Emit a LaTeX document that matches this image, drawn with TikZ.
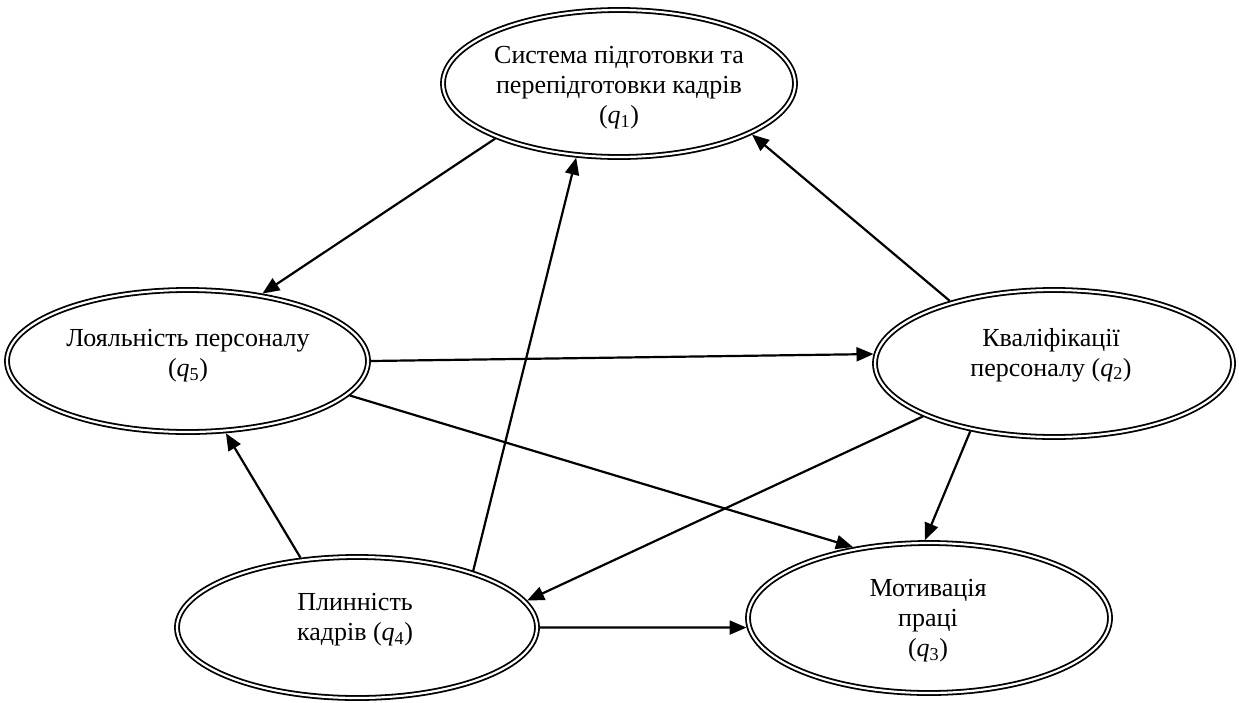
\documentclass[tikz,border=0pt]{standalone}
\usepackage{fontspec}
\setmainfont{Liberation Serif}
\usetikzlibrary{shapes.geometric,arrows.meta}
\begin{document}
\begin{tikzpicture}[x=1pt,y=-1pt,
  ell/.style={draw, ellipse, line width=1.8pt, double, double distance=2.2pt, inner sep=0pt, outer sep=2.9pt},
  lbl/.style={align=center, font=\fontsize{26}{30}\selectfont, inner sep=0pt},
  conn/.style={line width=2.2pt, -{Triangle[length=17pt,width=14pt]}}]
\useasboundingbox (0,0) rectangle (1239,702);
\node[ell, minimum width=352pt, minimum height=147pt] (q1) at (619,83.5) {};
\node[ell, minimum width=361pt, minimum height=142pt] (q5) at (187.5,361) {};
\node[ell, minimum width=358pt, minimum height=147pt] (q2) at (1054,363.5) {};
\node[ell, minimum width=360pt, minimum height=141pt] (q4) at (357,627.5) {};
\node[ell, minimum width=362pt, minimum height=150pt] (q3) at (929,618) {};
\node[lbl] (t1) at (619,88) {Система підготовки та\\перепідготовки кадрів\\(\textit{q}\textsubscript{1})};
\node[lbl] (t5) at (188,356) {Лояльність персоналу\\(\textit{q}\textsubscript{5})};
\node[lbl] (t2) at (1051,355) {Кваліфікації\\персоналу (\textit{q}\textsubscript{2})};
\node[lbl] (t4) at (355,620) {Плинність\\кадрів (\textit{q}\textsubscript{4})};
\node[lbl] (t3) at (928,621) {Мотивація\\праці\\(\textit{q}\textsubscript{3})};
\draw[conn] (q1.-156.4) -- (q5.42.6);
\draw[conn] (q4.26.6) -- (q1.-120.5);
\draw[conn] (q2.149.9) -- (q1.-21.5);
\draw[conn] (q5.0) -- (q2.177.6);
\draw[conn] (q5.-12.7) -- (q3.137.3);
\draw[conn] (q2.-158.5) -- (q4.9.7);
\draw[conn] (q2.-141.8) -- (q3.93.1);
\draw[conn] (q4.129.4) -- (q5.-62.2);
\draw[conn] (q4.0) -- (q3.-177.7);
\end{tikzpicture}
\end{document}
